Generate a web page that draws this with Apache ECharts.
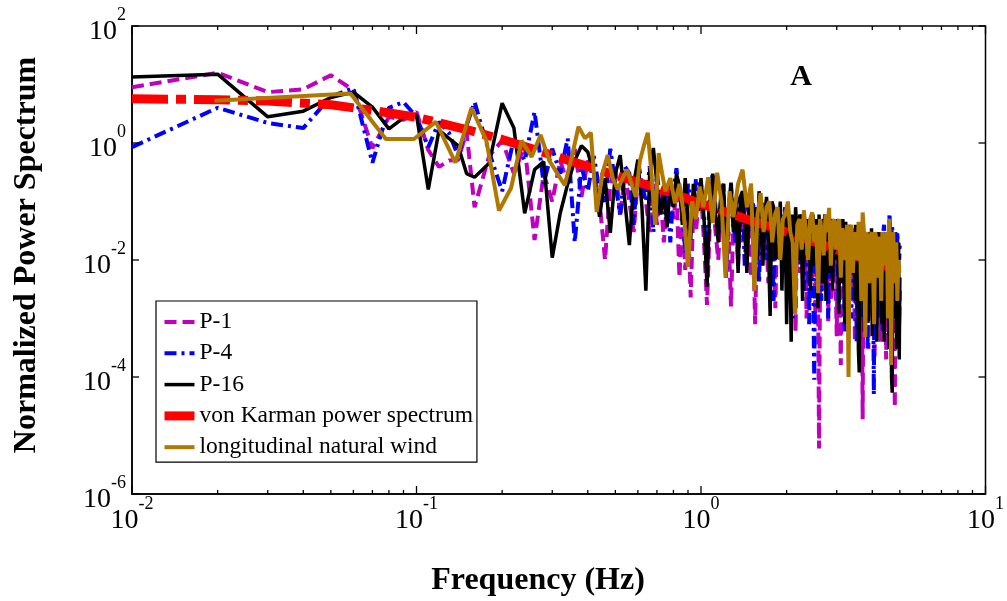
<!DOCTYPE html>
<html><head><meta charset="utf-8">
<script src="https://cdn.jsdelivr.net/npm/echarts@6/dist/echarts.min.js"></script>
<style>html,body{margin:0;padding:0;background:#fff}#c{width:1007px;height:601px}</style>
</head><body><div id="c"></div>
<script>
// ---- data ----
const seriesNames = ['P-1','P-4','P-16','von Karman power spectrum','longitudinal natural wind'];
const xTickExps = [-2,-1,0,1];
const yTickExps = [2,0,-2,-4,-6];

// frequencies (Hz) for the measured P-series
const fP = [0.01,0.02,0.03,0.04,0.05,0.06,0.07,0.08,0.09,0.10,0.11,0.12,0.13,0.14,0.15,0.16,
 0.18,0.20,0.22,0.24,0.26,0.28,0.30,0.32,0.34,0.36,0.38,0.40,
 0.42,0.44,0.46,0.48,0.50,0.52,0.54,0.56,0.58,0.60,0.62,0.64,0.66,0.68,0.70,0.72,0.74,0.76,0.78,0.80,
 0.82,0.84,0.86,0.88,0.90,0.92,0.94,0.96,0.98,
 1.000,1.025,1.050,1.075,1.100,1.125,1.150,1.175, 1.200,1.225,1.250,1.275,1.300,1.325,1.350,1.375,
 1.400,1.425,1.450,1.475,1.500,1.525,1.550,1.575, 1.600,1.625,1.650,1.675,1.700,1.725,1.750,1.775,
 1.800,1.825,1.850,1.875,1.900,1.925,1.950,1.975, 2.000,2.025,2.050,2.075,2.100,2.125,2.150,2.175,
 2.200,2.225,2.250,2.275,2.300,2.325,2.350,2.375, 2.400,2.425,2.450,2.475,2.500,2.525,2.550,2.575,
 2.600,2.625,2.650,2.675,2.700,2.725,2.750,2.775, 2.800,2.825,2.850,2.875,2.900,2.925,2.950,2.975,
 3.000,3.025,3.050,3.075,3.100,3.125,3.150,3.175, 3.200,3.225,3.250,3.275,3.300,3.325,3.350,3.375,
 3.400,3.425,3.450,3.475,3.500,3.525,3.550,3.575, 3.600,3.625,3.650,3.675,3.700,3.725,3.750,3.775,
 3.800,3.825,3.850,3.875,3.900,3.925,3.950,3.975, 4.000,4.025,4.050,4.075,4.100,4.125,4.150,4.175,
 4.200,4.225,4.250,4.275,4.300,4.325,4.350,4.375, 4.400,4.425,4.450,4.475,4.500,4.525,4.550,4.575,
 4.600,4.625,4.650,4.675,4.700,4.725,4.750,4.775, 4.800,4.825,4.850,4.875,4.900,4.925,4.950,4.975,
 5.000];

const p1 = [9,15.9,7.4,8.3,14.4,8,0.82,2.8,2.5,3.4,0.76,0.39,0.5,0.51,1.55,0.08,
 0.6,1.1,0.3,0.9,0.022,0.3,0.1,0.5,0.2,0.8,0.12,0.5,
 0.3,0.1,0.01,0.2,0.4,0.055,0.3,0.1,0.03,0.25,0.15,0.1,0.03,0.2,0.04,0.15,0.02,0.1,0.2,0.05,
 0.15,0.005,0.08,0.0068,0.05,0.0023,0.08,0.03,0.1,
 0.15,0.02,0.0017,0.05,0.12,0.03,0.01,0.08,
 0.2,0.006,0.03,0.0016,0.05,0.1,0.008,0.06,
 0.02,0.08,0.01,0.05,0.005,0.03,0.0008,0.04,
 0.06,0.01,0.04,0.08,0.02,0.004,0.05,0.03,
 0.05,0.0015,0.03,0.06,0.01,0.04,0.008,0.03,
 0.04,0.006,0.002,0.05,0.02,0.03,0.0006,0.04,
 0.03,0.006,0.02,0.04,0.003,0.025,0.001,0.03,
 0.03,0.01,0.004,0.025,0.02,0.0008,0.03,0.01,
 0.000006,0.02,0.015,0.003,0.03,0.008,0.02,0.03,
 0.0009,0.025,0.01,0.002,0.02,0.006,0.02,0.004,
 0.0005,0.02,0.025,0.006,0.00016,0.015,0.02,0.005,
 0.003,0.015,0.008,0.0007,0.02,0.01,0.015,0.002,
 0.002,0.012,0.008,0.0004,0.015,0.006,0.012,0.003,
 0.003,0.01,0.005,0.008,0.000019,0.012,0.004,0.01,
 0.0015,0.01,0.006,0.0003,0.012,0.004,0.01,0.002,
 0.002,0.008,0.004,0.0002,0.01,0.003,0.008,0.001,
 0.001,0.008,0.005,0.0004,0.01,0.003,0.006,0.0015,
 0.0015,0.006,0.002,0.0002,0.008,0.003,0.006,0.001,
 0.001,0.006,0.002,0.0003,0.008,0.003,0.006,0.001,
 0.00003,0.005,0.002,0.0006,0.006,0.002,0.005,0.0008,
 0.003];

const p4 = [0.85,4,2.2,1.8,6.2,8.7,0.46,4,5,2.8,0.85,2.3,1.5,0.6,2,5,
 0.7,0.15,1.2,0.5,3.4,0.2,0.8,0.3,1.2,0.02,0.4,0.15,
 0.6,0.15,0.1,0.8,0.2,0.06,0.4,0.3,0.04,0.5,0.2,0.1,0.4,0.03,0.3,0.1,0.06,0.2,0.02,0.15,
 0.37,0.1,0.08,0.013,0.2,0.1,0.05,0.25,0.15,
 0.2,0.05,0.01,0.15,0.3,0.08,0.03,0.1,
 0.15,0.005,0.06,0.2,0.04,0.02,0.12,0.03,
 0.1,0.008,0.05,0.12,0.03,0.1,0.015,0.03,
 0.004,0.08,0.1,0.02,0.01,0.06,0.08,0.03,
 0.002,0.05,0.07,0.01,0.015,0.06,0.03,0.08,
 0.005,0.04,0.06,0.01,0.001,0.05,0.03,0.06,
 0.008,0.04,0.06,0.015,0.003,0.05,0.04,0.02,
 0.0008,0.03,0.05,0.01,0.00009,0.02,0.04,0.006,
 0.05,0.02,0.002,0.04,0.03,0.01,0.05,0.03,
 0.001,0.035,0.045,0.01,0.005,0.04,0.02,0.03,
 0.03,0.006,0.0015,0.04,0.02,0.008,0.035,0.03,
 0.0006,0.025,0.035,0.01,0.004,0.03,0.025,0.001,
 0.03,0.02,0.006,0.025,0.02,0.0004,0.03,0.01,
 0.02,0.003,0.025,0.02,0.001,0.03,0.015,0.005,
 0.02,0.025,0.0003,0.02,0.01,0.03,0.005,0.02,
 0.025,0.008,0.00005,0.015,0.02,0.003,0.03,0.01,
 0.001,0.02,0.025,0.004,0.02,0.015,0.0006,0.03,
 0.04,0.01,0.003,0.03,0.025,0.001,0.02,0.03,
 0.063,0.02,0.005,0.03,0.04,0.002,0.02,0.03,
 0.005,0.03,0.02,0.002,0.03,0.015,0.02,0.01,
 0.02];

const p16 = [13.4,15,2.8,3.5,6,7.4,4.1,1.74,2.7,3.0,0.16,1.66,1.2,0.9,0.3,0.26,
 0.45,4.8,1.8,0.063,0.35,0.48,0.011,0.063,0.2,0.5,0.9,0.7,
 0.3,0.055,0.25,0.029,0.3,0.62,0.1,0.018,0.2,0.52,0.08,0.003,0.3,0.82,0.2,0.06,0.15,0.036,0.2,0.08,
 0.3,0.18,0.04,0.25,0.05,0.022,0.2,0.1,0.07,
 0.25,0.05,0.0035,0.1,0.3,0.06,0.02,0.15,
 0.2,0.01,0.08,0.21,0.03,0.1,0.006,0.12,
 0.15,0.04,0.006,0.1,0.2,0.02,0.08,0.01,
 0.15,0.05,0.008,0.06,0.12,0.02,0.0011,0.1,
 0.08,0.01,0.07,0.03,0.1,0.003,0.05,0.06,
 0.0008,0.05,0.02,0.0004,0.06,0.004,0.08,0.03,
 0.01,0.06,0.04,0.002,0.07,0.02,0.05,0.015,
 0.05,0.003,0.04,0.06,0.008,0.05,0.02,0.0015,
 0.06,0.01,0.05,0.004,0.035,0.06,0.002,0.05,
 0.02,0.006,0.04,0.05,0.003,0.035,0.01,0.05,
 0.01,0.03,0.0012,0.04,0.02,0.004,0.05,0.03,
 0.0008,0.045,0.01,0.03,0.003,0.04,0.015,0.025,
 0.006,0.035,0.02,0.002,0.04,0.008,0.03,0.0003,
 0.00012,0.02,0.03,0.002,0.035,0.01,0.0006,0.025,
 0.004,0.03,0.015,0.0009,0.03,0.02,0.003,0.035,
 0.0005,0.025,0.01,0.03,0.005,0.02,0.0004,0.03,
 0.015,0.002,0.025,0.008,0.03,0.0008,0.02,0.01,
 0.0004,0.02,0.005,0.025,0.001,0.03,0.01,0.0003,
 0.02,0.004,0.015,0.0001,0.000054,0.02,0.006,0.01,
 0.001,0.02,0.008,0.0003,0.015,0.003,0.02,0.0002,
 0.005];

// von Karman model curve
const fK = [0.01,0.02,0.03,0.05,0.07,0.1,0.15,0.2,0.3,0.5,0.7,1,1.5,2,3,4,5];
const vK = [5.7,5.5,5.2,4.5,3.6,2.75,1.7,1.15,0.62,0.28,0.17,0.092,0.047,0.03,0.015,0.0095,0.0065];

// longitudinal natural wind
const fW = [0.0195,0.0586,0.078,0.098,0.117,0.137,0.156,0.176,0.195,0.215,0.234,0.254,0.273,0.293,0.313,0.332,0.352,0.371,0.391,0.41,
 0.43,0.45,0.47,0.49,0.51,0.53,0.55,0.57,0.59,0.61,0.63,0.65,0.67,0.69,0.71,0.73,0.75,
 0.78,0.81,0.84,0.87,0.90,0.93,0.96,0.99,
 1.02,1.06,1.10,1.14,1.18,1.22,1.26,1.30,1.35,1.40,1.45,1.50,
 1.54,1.58,1.62,1.66,1.70,1.74,1.78,1.82,1.86,1.90,
 1.94,1.98,2.02,2.06,2.10,2.14,2.18,2.22,2.26,2.30,
 2.34,2.38,2.42,2.46,2.50,2.54,2.58,2.62,2.66,2.70,
 2.74,2.78,2.82,2.86,2.90,2.94,2.98,3.02,3.06,3.10,
 3.14,3.18,3.22,3.26,3.30,3.34,3.38,3.42,3.46,3.50,
 3.54,3.58,3.62,3.66,3.70,3.74,3.78,3.82,3.86,3.90,
 3.94,3.98,4.02,4.06,4.10,4.14,4.18,4.22,4.26,4.30,
 4.34,4.38,4.42,4.46,4.50,4.54,4.58,4.62,4.66,4.70,
 4.74,4.78,4.82,4.86,4.90,4.94,4.98];
const vW = [5.3,7.0,1.17,1.17,2.3,0.46,4.0,1.1,0.07,0.17,1.1,0.58,1.37,0.5,0.3,0.19,0.6,1.9,1.2,1.5,
 0.066,0.3,0.62,0.25,0.16,0.25,0.35,0.2,0.12,0.5,0.9,1.5,0.3,0.04,0.67,0.3,0.15,
 0.25,0.093,0.2,0.06,0.0076,0.1,0.05,0.18,
 0.08,0.26,0.043,0.31,0.1,0.005,0.15,0.054,0.2,0.35,0.08,0.2,
 0.003,0.06,0.14,0.03,0.08,0.1,0.02,0.06,0.08,0.01,
 0.05,0.06,0.1,0.03,0.02,0.0012,0.04,0.05,0.015,0.07,
 0.03,0.01,0.05,0.065,0.02,0.04,0.0027,0.05,0.03,0.012,
 0.06,0.03,0.078,0.008,0.04,0.05,0.015,0.04,0.05,0.005,
 0.035,0.02,0.01,0.04,0.0001,0.03,0.04,0.006,0.03,0.02,
 0.01,0.045,0.03,0.002,0.065,0.03,0.00048,0.03,0.02,0.004,
 0.025,0.03,0.01,0.0008,0.03,0.02,0.005,0.025,0.02,0.002,
 0.03,0.02,0.008,0.02,0.03,0.001,0.05,0.02,0.00016,0.02,
 0.03,0.004,0.015,0.02,0.002,0.01,0.006];

// ---- chart ----
const pair = (xs, ys) => xs.map((x, i) => [x, ys[i]]);
const serif = '"Liberation Serif","Times New Roman",serif';
const chart = echarts.init(document.getElementById('c'));

const tickData = [];
for (let e = xTickExps[0]; e <= xTickExps[xTickExps.length - 1]; e++) {
  tickData.push([Math.pow(10, e), 1, 0]);
  if (e < xTickExps[xTickExps.length - 1]) for (let m = 2; m <= 9; m++) tickData.push([m * Math.pow(10, e), 1, 1]);
}
yTickExps.forEach(e => tickData.push([1, Math.pow(10, e), 2]));

const rich = {
  b: {fontFamily: serif, fontSize: 28, color: '#000', lineHeight: 40, verticalAlign: 'bottom'},
  s: {fontFamily: serif, fontSize: 18, color: '#000', lineHeight: 18, verticalAlign: 'top'}
};

const option = {
  animation: false,
  backgroundColor: '#fff',
  grid: {left: 132, right: 17, top: 26, bottom: 107, show: true, borderColor: '#000', borderWidth: 1.5, backgroundColor: 'transparent'},
  xAxis: {
    type: 'log', min: 0.01, max: 10, logBase: 10, splitNumber: 3,
    axisLine: {show: true, lineStyle: {color: '#000', width: 1.5}},
    axisTick: {show: false}, splitLine: {show: false}, minorTick: {show: false},
    axisLabel: {margin: 1, formatter: v => {
      const e = Math.round(Math.log10(v));
      return xTickExps.includes(e) ? '{b|10}{s|' + e + '}' : '';
    }, rich: rich}
  },
  yAxis: {
    type: 'log', min: 1e-6, max: 100, logBase: 10, splitNumber: 8,
    axisLine: {show: true, lineStyle: {color: '#000', width: 1.5}},
    axisTick: {show: false}, splitLine: {show: false},
    axisLabel: {margin: 6, formatter: v => {
      const e = Math.round(Math.log10(v));
      return yTickExps.includes(e) ? '{b|10}{s|' + e + '}' : '';
    }, rich: rich}
  },
  legend: {
    data: seriesNames, orient: 'vertical', left: 156, top: 301,
    itemWidth: 30, itemHeight: 14, itemGap: 7.3,
    padding: [9, 4, 3, 4],
    borderColor: '#000', borderWidth: 1.2, backgroundColor: '#fff',
    itemStyle: {opacity: 0},
    lineStyle: {width: 'inherit'},
    textStyle: {fontFamily: serif, fontSize: 23.5, color: '#000'}
  },
  graphic: [
    {type: 'text', x: 538, y: 581, style: {text: 'Frequency (Hz)', font: 'bold 32px ' + serif, textAlign: 'center', textVerticalAlign: 'middle', fill: '#000'}},
    {type: 'text', x: 27, y: 255, rotation: Math.PI / 2, style: {text: 'Normalized Power Spectrum', font: 'bold 32px ' + serif, textAlign: 'center', textVerticalAlign: 'middle', fill: '#000'}},
    {type: 'text', x: 801, y: 77, style: {text: 'A', font: 'bold 30px ' + serif, textAlign: 'center', textVerticalAlign: 'middle', fill: '#000'}}
  ],
  series: [
    {name: seriesNames[0], type: 'line', data: pair(fP, p1), symbol: 'none', z: 2,
     lineStyle: {color: '#BF00BF', width: 4, type: [12, 6]}, itemStyle: {color: '#BF00BF'}},
    {name: seriesNames[1], type: 'line', data: pair(fP, p4), symbol: 'none', z: 3,
     lineStyle: {color: '#0000FF', width: 4, type: [12, 5, 3, 5]}, itemStyle: {color: '#0000FF'}},
    {name: seriesNames[2], type: 'line', data: pair(fP, p16), symbol: 'none', z: 4,
     lineStyle: {color: '#000000', width: 3.5}, itemStyle: {color: '#000000'}},
    {name: seriesNames[3], type: 'line', data: pair(fK, vK), symbol: 'none', z: 5,
     lineStyle: {color: '#FF0000', width: 9, type: [36, 8, 10, 8]}, itemStyle: {color: '#FF0000'}},
    {name: seriesNames[4], type: 'line', data: pair(fW, vW), symbol: 'none', z: 6,
     lineStyle: {color: '#B07800', width: 4}, itemStyle: {color: '#B07800'}},
    {type: 'custom', silent: true, z: 10, encode: {x: 0, y: 1}, data: tickData,
     renderItem: (params, api) => {
       const cs = params.coordSys; const k = api.value(2);
       const st = {stroke: '#000', lineWidth: 1.3};
       if (k === 2) {
         const y = api.coord([1, api.value(1)])[1];
         return {type: 'group', children: [
           {type: 'line', shape: {x1: cs.x, y1: y, x2: cs.x + 7, y2: y}, style: st},
           {type: 'line', shape: {x1: cs.x + cs.width, y1: y, x2: cs.x + cs.width - 7, y2: y}, style: st}]};
       }
       const x = api.coord([api.value(0), 1])[0]; const len = k === 0 ? 8 : 4;
       return {type: 'group', children: [
         {type: 'line', shape: {x1: x, y1: cs.y + cs.height, x2: x, y2: cs.y + cs.height - len}, style: st},
         {type: 'line', shape: {x1: x, y1: cs.y, x2: x, y2: cs.y + len}, style: st}]};
     }}
  ]
};
chart.setOption(option);
</script>
</body></html>
